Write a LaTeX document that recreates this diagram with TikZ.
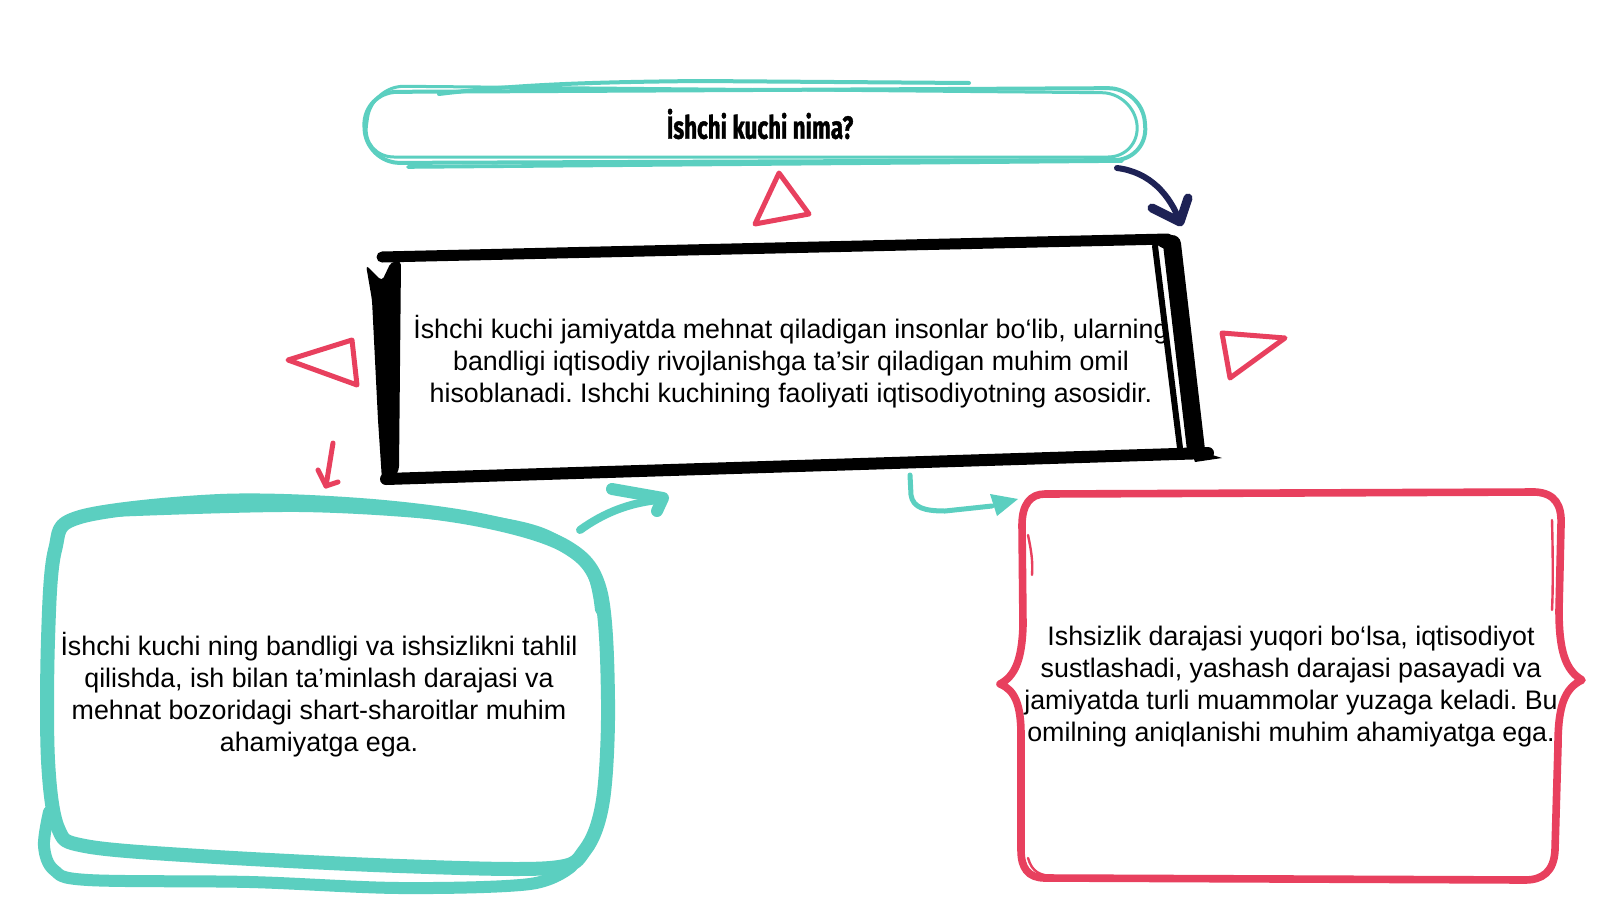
\documentclass[tikz,border=0pt]{standalone}
\usepackage{fontspec}
\setmainfont{Liberation Sans}
\newfontfamily\titlefont[FakeStretch=0.7,FakeBold=1.2]{Fira Sans}
\usetikzlibrary{arrows.meta}
\definecolor{tealc}{RGB}{91,207,192}
\definecolor{redc}{RGB}{232,64,94}
\definecolor{navyc}{RGB}{30,34,85}
\frenchspacing
\tikzset{
  bodytext/.style={align=center, text=black, font=\fontsize{13.4}{16}\selectfont, inner sep=0pt},
  titletext/.style={text=black, font=\titlefont\bfseries\fontsize{16}{18}\selectfont, inner sep=0pt},
  tri/.style={draw=redc, line width=2.5pt, line join=round},
  tealline/.style={draw=tealc, line cap=round, line join=round},
  redline/.style={draw=redc, line cap=round, line join=round},
  blkline/.style={draw=black, line cap=round, line join=round},
}
\begin{document}
\begin{tikzpicture}[x=0.5pt, y=-0.5pt]
\useasboundingbox (0,0) rectangle (1600,900);
\fill[white] (0,0) rectangle (1600,900);

% ---------- title pill ----------
\draw[tealline, line width=2pt, rounded corners=17pt] (363,92) -- (1142,88) -- (1148,160) -- (366,163) -- cycle;
\draw[tealline, line width=1.5pt, rounded corners=16pt] (372,86) -- (1134,93) -- (1140,157) -- (362,157) -- cycle;
\draw[tealline, line width=2pt] (439,94) .. controls (520,84) and (600,82) .. (700,81) -- (969,83);
\draw[tealline, line width=1.8pt] (408,167) -- (1122,161);
\node[titletext] (title) at (760,124) {İshchi kuchi nima?};

% ---------- main black box ----------
\draw[blkline, line width=5.5pt] (382,257) -- (1168,239);
\draw[blkline, line width=6pt] (386,479) -- (1208,453);
\fill[black] (1190,448) -- (1222,458) -- (1195,462) -- cycle;
\fill[black, rounded corners=2pt] (366,265) -- (382,281) -- (391,262) -- (401,261) -- (399,470) -- (393,480) -- (382,480) -- (378,420) -- (372,300) -- cycle;
\draw[blkline, line width=9pt] (1172,244) -- (1196,450);
\draw[blkline, line width=3pt] (1155,246) -- (1180,448);
\fill[black, rounded corners=3pt] (1150,237) -- (1176,236) -- (1182,252) -- (1160,248) -- cycle;
\node[bodytext] (main) at (791,362) {İshchi kuchi jamiyatda mehnat qiladigan insonlar bo‘lib, ularning\\
bandligi iqtisodiy rivojlanishga ta’sir qiladigan muhim omil\\
hisoblanadi. Ishchi kuchining faoliyati iqtisodiyotning asosidir.};

% ---------- red triangles ----------
\draw[tri] (779,173) -- (809,214) -- (755,224) -- cycle;
\draw[tri] (288,360) -- (352,340) -- (357,385) -- cycle;
\draw[tri] (1222,333) -- (1285,338) -- (1230,378) -- cycle;

% ---------- left teal box ----------
\draw[tealline, line width=7pt] plot[smooth cycle, tension=0.55] coordinates {
  (80,517) (220,501) (360,505) (480,520) (565,546) (600,590) (608,700) (603,800) (585,850) (550,868)
  (400,866) (200,856) (85,846) (58,828) (48,760) (48,640) (55,550)};
\draw[tealline, line width=5pt] plot[smooth, tension=0.55] coordinates {
  (110,512) (300,507) (450,516) (540,532) (588,566) (600,610)};
\draw[tealline, line width=6pt] plot[smooth, tension=0.55] coordinates {
  (49,812) (44,846) (54,870) (88,880) (250,882) (400,888) (530,884) (572,866)};
\node[bodytext] (left) at (319,695) {İshchi kuchi ning bandligi va ishsizlikni tahlil\\
qilishda, ish bilan ta’minlash darajasi va\\
mehnat bozoridagi shart-sharoitlar muhim\\
ahamiyatga ega.};

% ---------- right red box ----------
\draw[redline, line width=3.8pt] (1045,494) -- (1535,492) .. controls (1555,493) and (1562,505) .. (1561,525)
  -- (1559,610) .. controls (1559,650) and (1565,670) .. (1582,680)
  .. controls (1565,688) and (1558,705) .. (1558,745) -- (1555,850)
  .. controls (1554,872) and (1542,880) .. (1525,880) -- (1045,878)
  .. controls (1028,878) and (1021,868) .. (1021,850) -- (1021,735)
  .. controls (1021,705) and (1015,690) .. (1000,684)
  .. controls (1015,676) and (1022,660) .. (1023,625) -- (1022,525)
  .. controls (1022,505) and (1030,494) .. (1045,494) -- cycle;
\draw[redline, line width=1.2pt] (1028,535) .. controls (1031,550) and (1033,560) .. (1032,575);
\draw[redline, line width=1.2pt] (1028,858) .. controls (1032,872) and (1040,876) .. (1055,876);
\draw[redline, line width=1.2pt] (1552,520) .. controls (1553,560) and (1553,590) .. (1552,610);
\node[bodytext] (right) at (1291,687) {Ishsizlik darajasi yuqori bo‘lsa, iqtisodiyot\\
sustlashadi, yashash darajasi pasayadi va\\
jamiyatda turli muammolar yuzaga keladi. Bu\\
omilning aniqlanishi muhim ahamiyatga ega.};

% ---------- arrows ----------
\coordinate (nv0) at (1117,168);
\coordinate (nv1) at (1180,222);
\draw[navyc, line width=3pt, line cap=round] (nv0) .. controls (1150,172) and (1170,195) .. (nv1);
\draw[navyc, line width=4.5pt, line cap=round, line join=round] (1152,208) -- (nv1) -- (1188,198);

\coordinate (ra0) at (333,443);
\coordinate (ra1) at (326,486);
\draw[redline, line width=2.5pt] (ra0) -- (ra1);
\draw[redline, line width=2.5pt] (318,470) -- (ra1) -- (338,482);

\coordinate (ta0) at (580,530);
\coordinate (ta1) at (663,498);
\draw[tealline, line width=4pt] (ta0) .. controls (605,512) and (630,503) .. (658,500);
\draw[tealline, line width=6pt] (612,489) -- (ta1) -- (657,511);

\coordinate (tb0) at (910,475);
\coordinate (tb1) at (1018,499);
\draw[tealline, line width=2.5pt] (tb0) -- (911,495) .. controls (913,508) and (925,511) .. (945,511) -- (992,506);
\fill[tealc] (990,494) -- (tb1) -- (997,516) -- cycle;
\end{tikzpicture}
\end{document}
